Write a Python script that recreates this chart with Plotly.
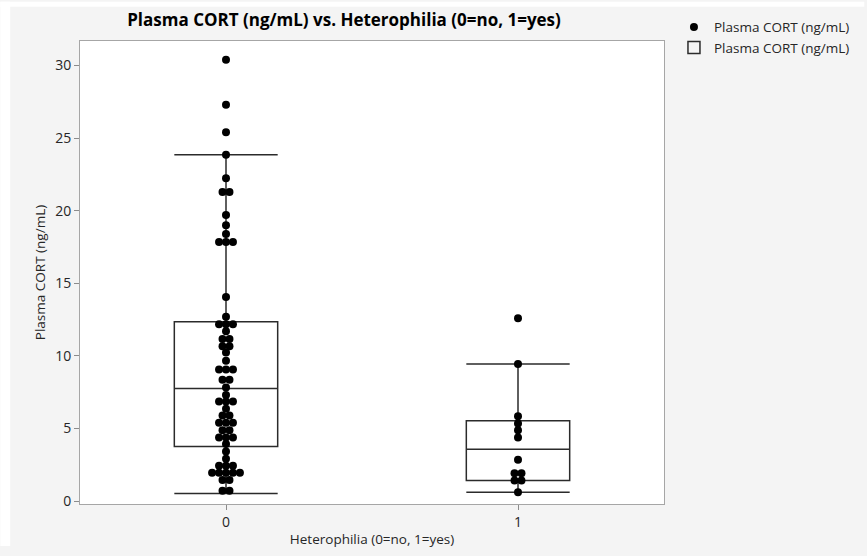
import plotly.graph_objects as go
from collections import Counter

# Group positions and tick labels (0 = no heterophilia, 1 = heterophilia)
groups = [0, 1]
tick_labels = ["0", "1"]

# Plasma CORT (ng/mL) per bird, by heterophilia status
cort_no = [30.4, 27.3, 25.4, 23.85, 22.23, 21.29, 21.29, 19.71, 19.0, 18.4,
           17.85, 17.85, 17.85, 14.05, 12.7, 12.18, 12.18, 12.18, 11.69,
           11.17, 11.17, 10.67, 10.67, 10.23, 9.66, 9.06, 9.06, 9.06,
           8.36, 8.36, 7.82, 7.3, 6.86, 6.86, 6.86, 6.36, 5.89, 5.89,
           5.39, 5.39, 5.39, 4.88, 4.88, 4.38, 4.38, 4.38, 3.93, 3.42, 2.92,
           2.43, 2.43, 2.43, 1.96, 1.96, 1.96, 1.96, 1.96, 1.46, 1.46,
           0.72, 0.72]
cort_yes = [12.6, 9.44, 5.84, 5.35, 4.88, 4.38, 2.85, 1.91, 1.91, 1.42,
            1.42, 0.61]

# Box-plot summaries (group 0, group 1)
q1 = [3.76, 1.42]
median = [7.75, 3.57]
q3 = [12.36, 5.53]
lower_fence = [0.52, 0.61]
upper_fence = [23.85, 9.44]

# Page geometry
W, H = 867, 556
L, R, T, B = 80, 666, 40, 513
PW, PH = R - L, B - T

DOT_STEP = 0.0238   # horizontal spacing between side-by-side dots (x units)

FONT = "Open Sans"


def swarm(center, values):
    """Lay equal values side by side, centred on the group position."""
    counts = Counter(values)
    seen = Counter()
    xs = []
    for v in values:
        k = counts[v]
        i = seen[v]
        seen[v] += 1
        xs.append(center + (i - (k - 1) / 2) * DOT_STEP)
    return xs


xs, ys = [], []
for g, vals in zip(groups, [cort_no, cort_yes]):
    xs += swarm(g, vals)
    ys += vals

fig = go.Figure()

fig.add_trace(go.Box(
    x=groups, q1=q1, median=median, q3=q3,
    lowerfence=lower_fence, upperfence=upper_fence,
    name="Plasma CORT (ng/mL)", boxpoints=False,
    width=0.354, whiskerwidth=1,
    line=dict(color="#2b2b2b", width=1.5),
    fillcolor="rgba(255,255,255,0)",
    hoverinfo="skip",
))

fig.add_trace(go.Scatter(
    x=xs, y=ys, mode="markers", name="Plasma CORT (ng/mL)",
    marker=dict(color="black", size=8, line=dict(width=0)),
))


def px_x(p):
    return (p - L) / PW


def px_y(p):
    return (B - p) / PH


axis_style = dict(
    showline=True, linecolor="#a6a6a6", linewidth=1, mirror=True,
    ticks="outside", ticklen=5, tickcolor="#8c8c8c",
    showgrid=False, zeroline=False,
    tickfont=dict(family=FONT, size=14, color="#262626"),
    title_font=dict(family=FONT, size=13.5, color="#262626"),
)

fig.update_layout(
    width=W, height=H,
    margin=dict(l=L, r=W - R, t=T, b=H - B),
    paper_bgcolor="#f4f4f4", plot_bgcolor="white",
    title=dict(text="<b>Plasma CORT (ng/mL) vs. Heterophilia (0=no, 1=yes)</b>",
               x=344 / W, xanchor="center", xref="container",
               y=1 - 20 / H, yanchor="middle", yref="container",
               font=dict(family=FONT, size=17, color="black")),
    xaxis=dict(range=[-0.5, 1.5], tickvals=groups, ticktext=tick_labels,
               title=dict(text="Heterophilia (0=no, 1=yes)", standoff=4),
               **axis_style),
    yaxis=dict(range=[-0.2, 31.69], dtick=5,
               title=dict(text="Plasma CORT (ng/mL)", standoff=6),
               **axis_style),
    legend=dict(x=px_x(676), y=px_y(10), xanchor="left", yanchor="top",
                traceorder="reversed", bgcolor="rgba(0,0,0,0)",
                font=dict(family=FONT, size=13.5, color="#262626"),
                itemwidth=30, tracegroupgap=0),
    showlegend=True,
    shapes=[
        dict(type="rect", xref="paper", yref="paper", layer="above",
             x0=px_x(0), x1=px_x(10), y0=px_y(H), y1=px_y(0),
             fillcolor="white", line=dict(width=0)),
        dict(type="rect", xref="paper", yref="paper", layer="above",
             x0=px_x(0), x1=px_x(W), y0=px_y(5), y1=px_y(0),
             fillcolor="white", line=dict(width=0)),
    ],
)

fig.write_html("out.html")
